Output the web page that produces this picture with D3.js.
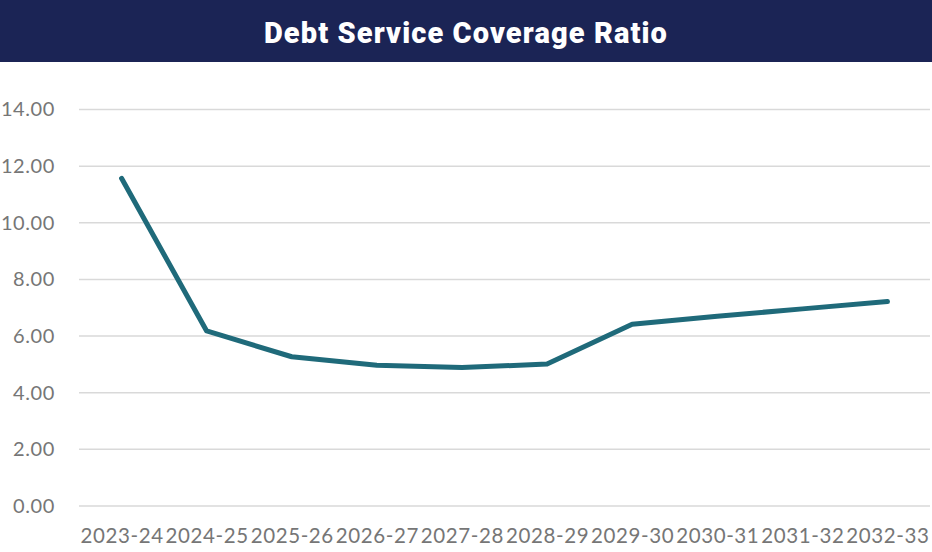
<!DOCTYPE html>
<html>
<head>
<meta charset="utf-8">
<script src="https://cdn.jsdelivr.net/npm/d3@7"></script>
<style>
  body { margin: 0; background: #fff; }
  svg { display: block; }
</style>
</head>
<body>
<div id="chart"></div>
<script>
// chart data
const years = ["2023-24", "2024-25", "2025-26", "2026-27", "2027-28",
               "2028-29", "2029-30", "2030-31", "2031-32", "2032-33"];
const dscr = [11.57, 6.18, 5.27, 4.97, 4.89, 5.01, 6.42, 6.70, 6.96, 7.22];
const yTicks = [0, 2, 4, 6, 8, 10, 12, 14];

const width = 932, height = 552;
const margin = {top: 110, right: 2, bottom: 46, left: 79};

const svg = d3.select("#chart").append("svg")
  .attr("width", width)
  .attr("height", height);

// title bar
svg.append("rect")
  .attr("x", 0).attr("y", 0)
  .attr("width", width).attr("height", 62)
  .attr("fill", "#1b2455");

svg.append("text")
  .attr("x", width / 2)
  .attr("y", 43)
  .attr("text-anchor", "middle")
  .attr("font-family", "Roboto, 'Noto Sans', sans-serif")
  .attr("font-weight", "900")
  .attr("font-size", "29px")
  .attr("letter-spacing", "1.1px")
  .attr("fill", "white")
  .text("Debt Service Coverage Ratio");

const x = d3.scalePoint()
  .domain(years)
  .range([margin.left, width - margin.right])
  .padding(0.5);

const y = d3.scaleLinear()
  .domain([0, 14])
  .range([506, 109.5]);

// gridlines
svg.append("g")
  .selectAll("line")
  .data(yTicks)
  .enter()
  .append("line")
  .attr("x1", margin.left)
  .attr("x2", width - margin.right)
  .attr("y1", d => y(d))
  .attr("y2", d => y(d))
  .attr("stroke", "#d9d9d9")
  .attr("stroke-width", 1.5);

// y labels
const yAxis = svg.append("g")
  .attr("transform", `translate(55,0)`)
  .call(d3.axisLeft(y).tickValues(yTicks).tickFormat(d3.format(".2f")).tickSize(0).tickPadding(0));
yAxis.select(".domain").remove();
yAxis.selectAll("text")
  .attr("font-family", "Lato, 'Open Sans', sans-serif")
  .attr("font-size", "20px")
  .attr("letter-spacing", "0.6px")
  .attr("fill", "#767676");

// x labels
const xAxis = svg.append("g")
  .attr("transform", `translate(0,${y(0)})`)
  .call(d3.axisBottom(x).tickSize(0).tickPadding(22));
xAxis.select(".domain").remove();
xAxis.selectAll("text")
  .attr("font-family", "Lato, 'Open Sans', sans-serif")
  .attr("font-size", "20.5px")
  .attr("letter-spacing", "0.6px")
  .attr("fill", "#767676");

// line
const line = d3.line()
  .x((d, i) => x(years[i]))
  .y(d => y(d));

svg.append("path")
  .datum(dscr)
  .attr("d", line)
  .attr("fill", "none")
  .attr("stroke", "#1f6a7a")
  .attr("stroke-width", 5)
  .attr("stroke-linecap", "round")
  .attr("stroke-linejoin", "round");
</script>
</body>
</html>
